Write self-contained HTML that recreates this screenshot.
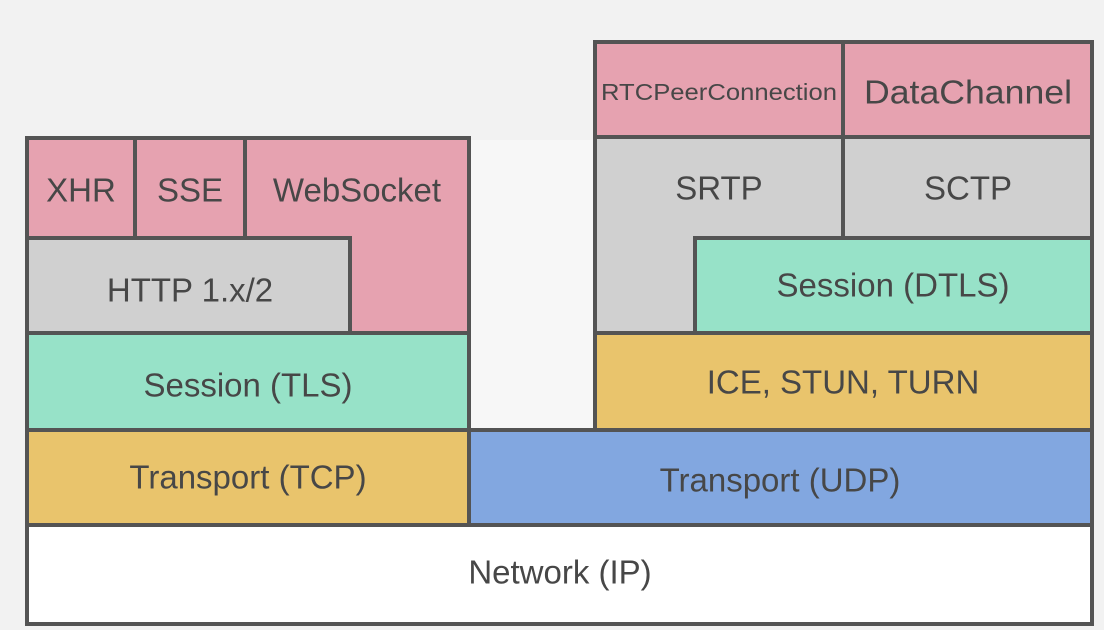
<!DOCTYPE html>
<html><head><meta charset="utf-8"><style>
html,body{margin:0;padding:0;background:#f2f2f2;}
svg{display:block;}
text{font-family:"Liberation Sans",sans-serif;fill:#474747;text-anchor:middle;dominant-baseline:central;}
</style></head><body>
<svg width="1104" height="630" viewBox="0 0 1104 630" xmlns="http://www.w3.org/2000/svg">
<rect width="1104" height="630" fill="#f2f2f2"/>
<rect x="470" y="140" width="124" height="290" fill="#f7f7f7"/>
<g stroke="#545454" stroke-width="4">
<rect x="27" y="138" width="108" height="100" fill="#e6a2b0"/>
<rect x="135" y="138" width="110" height="100" fill="#e6a2b0"/>
<path d="M245 138 H469 V333 H350 V238 H245 Z" fill="#e6a2b0"/>
<rect x="27" y="238" width="323" height="95" fill="#d0d0d0"/>
<rect x="27" y="333" width="442" height="97" fill="#97e2c8"/>
<rect x="27" y="430" width="442" height="95" fill="#e9c46c"/>
<rect x="595" y="42" width="248" height="95" fill="#e6a2b0"/>
<rect x="843" y="42" width="249" height="95" fill="#e6a2b0"/>
<path d="M595 137 H843 V238 H695 V333 H595 Z" fill="#d0d0d0"/>
<rect x="843" y="137" width="249" height="101" fill="#d0d0d0"/>
<rect x="695" y="238" width="397" height="95" fill="#97e2c8"/>
<rect x="595" y="333" width="497" height="97" fill="#e9c46c"/>
<rect x="469" y="430" width="623" height="95" fill="#82a7e0"/>
<rect x="27" y="525" width="1065" height="99" fill="#ffffff"/>
</g>
<text x="81" y="190" font-size="33">XHR</text>
<text x="190" y="190" font-size="33">SSE</text>
<text x="357" y="190" font-size="33">WebSocket</text>
<text x="190" y="290" font-size="33">HTTP 1.x/2</text>
<text x="248" y="385" font-size="33">Session (TLS)</text>
<text x="248" y="477" font-size="33">Transport (TCP)</text>
<text x="719" y="92" font-size="23" textLength="236" lengthAdjust="spacingAndGlyphs">RTCPeerConnection</text>
<text x="968" y="92" font-size="33" textLength="208" lengthAdjust="spacingAndGlyphs">DataChannel</text>
<text x="719" y="188" font-size="33">SRTP</text>
<text x="968" y="188" font-size="33">SCTP</text>
<text x="893" y="285" font-size="33">Session (DTLS)</text>
<text x="843" y="382" font-size="33">ICE, STUN, TURN</text>
<text x="780" y="480" font-size="33">Transport (UDP)</text>
<text x="560" y="572" font-size="33">Network (IP)</text>
</svg>
</body></html>
